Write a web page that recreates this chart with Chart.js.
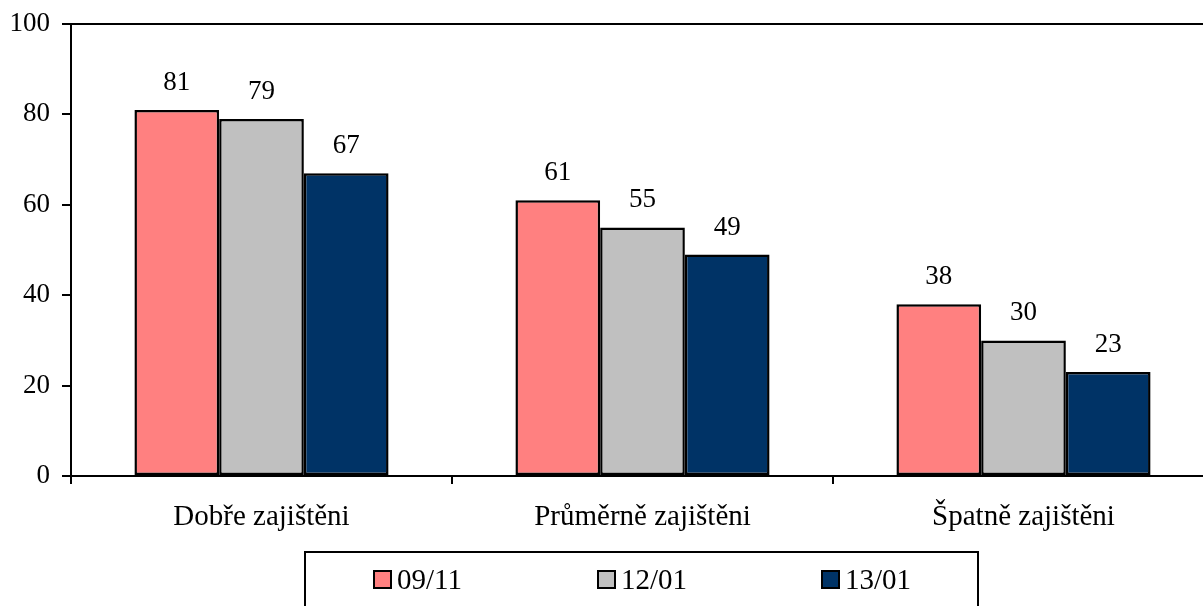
<!DOCTYPE html>
<html>
<head>
<meta charset="utf-8">
<script src="https://cdn.jsdelivr.net/npm/chart.js@4.4.1/dist/chart.umd.min.js"></script>
<style>
html,body{margin:0;padding:0;background:#fff;overflow:hidden;}
#wrap{width:1214px;height:606px;}
</style>
</head>
<body>
<div id="wrap"><canvas id="c" width="1214" height="606"></canvas></div>
<script>
const categories = ["Dobře zajištěni", "Průměrně zajištěni", "Špatně zajištěni"];
const seriesNames = ["09/11", "12/01", "13/01"];
const s0911 = [81, 61, 38];
const s1201 = [79, 55, 30];
const s1301 = [67, 49, 23];
const yTicks = [0, 20, 40, 60, 80, 100];
const colors = ["#FF8080", "#C0C0C0", "#003366"];
const FONT = "'Liberation Serif', 'Times New Roman', serif";

const valueLabels = {
  id: 'valueLabels',
  afterDatasetsDraw(chart) {
    const ctx = chart.ctx;
    ctx.save();
    ctx.font = "27px " + FONT;
    ctx.fillStyle = "#000";
    ctx.textAlign = "center";
    ctx.textBaseline = "middle";
    chart.data.datasets.forEach((ds, i) => {
      const meta = chart.getDatasetMeta(i);
      meta.data.forEach((el, j) => {
        ctx.fillText(String(ds.data[j]), el.x, el.y - 27);
      });
    });
    ctx.restore();
  }
};

const boxLegend = {
  id: 'boxLegend',
  afterDraw(chart, args, opts) {
    const ctx = chart.ctx;
    ctx.save();
    ctx.lineWidth = 2;
    ctx.strokeStyle = "#000";
    ctx.fillStyle = "#fff";
    ctx.beginPath();
    ctx.rect(opts.left, opts.top, opts.right - opts.left, 80);
    ctx.fill();
    ctx.stroke();
    ctx.font = "29px " + FONT;
    ctx.textBaseline = "middle";
    ctx.textAlign = "left";
    chart.data.datasets.forEach((ds, i) => {
      const x = opts.items[i];
      const y = opts.cy;
      ctx.fillStyle = ds.backgroundColor;
      ctx.fillRect(x + 1, y - 9, 17, 17);
      ctx.strokeStyle = "#000";
      ctx.lineWidth = 2;
      ctx.strokeRect(x + 1, y - 9, 17, 17);
      ctx.fillStyle = "#000";
      ctx.fillText(ds.label, x + 24, y + 1);
    });
    ctx.restore();
  }
};

new Chart(document.getElementById('c'), {
  type: 'bar',
  data: {
    labels: categories,
    datasets: [
      { label: seriesNames[0], data: s0911, backgroundColor: colors[0] },
      { label: seriesNames[1], data: s1201, backgroundColor: colors[1] },
      { label: seriesNames[2], data: s1301, backgroundColor: colors[2] }
    ].map(d => Object.assign(d, { borderColor: "#000", borderWidth: 2.5, borderSkipped: false, categoryPercentage: 0.667, barPercentage: 1.0 }))
  },
  options: {
    responsive: false,
    animation: false,
    devicePixelRatio: 1,
    layout: { padding: { top: 24, right: 0, bottom: 0, left: 0 } },
    plugins: {
      legend: { display: false },
      tooltip: { enabled: false },
      boxLegend: { left: 305, right: 978, top: 552, cy: 580, items: [373, 597, 821] }
    },
    scales: {
      x: {
        afterFit: (s) => { s.height = 130; s.paddingLeft = 0; s.paddingRight = 0; },
        grid: { display: true, drawOnChartArea: false, color: "#000", lineWidth: 2, tickLength: 8, offset: true },
        border: { display: true, color: "#000", width: 2 },
        ticks: { color: "#000", font: { family: FONT, size: 29 }, padding: 16, maxRotation: 0 }
      },
      y: {
        min: 0, max: 100,
        afterFit: (s) => { s.width = 71; s.paddingTop = 0; s.paddingBottom = 0; },
        afterBuildTicks: (s) => { s.ticks = yTicks.map(v => ({ value: v })); },
        grid: {
          drawOnChartArea: true,
          color: (c) => (c.tick && c.tick.value === 100) ? "#000" : "rgba(0,0,0,0)",
          tickColor: "#000",
          lineWidth: 2, tickLength: 9
        },
        border: { display: true, color: "#000", width: 2 },
        ticks: { color: "#000", font: { family: FONT, size: 27, lineHeight: 1 }, padding: 12 }
      }
    }
  },
  plugins: [valueLabels, boxLegend]
});
</script>
</body>
</html>
